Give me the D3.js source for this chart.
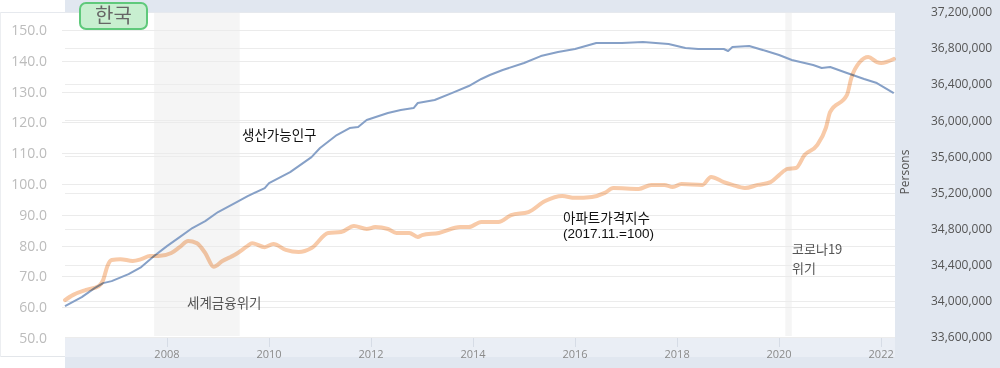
<!DOCTYPE html>
<html>
<head>
<meta charset="utf-8">
<script src="https://cdn.jsdelivr.net/npm/d3@7"></script>
<style>
  body { margin: 0; background: #e1e7f0; }
  svg { display: block; }
</style>
</head>
<body>
<script>
// 아파트가격지수 (2017.11.=100)
const priceDates = [
  "2006-01","2006-03","2006-06","2006-09","2006-10","2006-11","2006-12",
  "2007-02","2007-05","2007-07","2007-09","2007-11",
  "2008-02","2008-04","2008-06","2008-08","2008-10","2008-12",
  "2009-02","2009-05","2009-08","2009-09","2009-12",
  "2010-02","2010-05","2010-08","2010-11",
  "2011-03","2011-06","2011-09","2011-12",
  "2012-02","2012-05","2012-07","2012-10","2012-12",
  "2013-01","2013-05","2013-10","2013-12",
  "2014-03","2014-07","2014-10",
  "2015-02","2015-06","2015-10",
  "2016-01","2016-05","2016-08","2016-10",
  "2017-04","2017-07","2017-10","2017-12",
  "2018-02","2018-07","2018-09","2018-12",
  "2019-02","2019-05","2019-08","2019-11",
  "2020-01","2020-03","2020-05","2020-07","2020-10","2020-12",
  "2021-01","2021-05","2021-06","2021-08","2021-10","2021-12",
  "2022-01","2022-04"
];
const priceValues = [
  62.3, 64.0, 65.6, 66.9, 68.8, 73.4, 75.3,
  75.6, 75.0, 75.6, 76.6, 76.6,
  77.6, 79.5, 81.5, 80.8, 77.6, 73.1,
  75.0, 77.0, 79.9, 80.8, 79.5,
  80.5, 78.6, 77.9, 79.2,
  84.1, 84.4, 86.4, 85.4,
  86.0, 85.4, 84.1, 84.1, 82.8,
  83.4, 84.1, 86.0, 86.0,
  87.7, 87.7, 89.9,
  90.9, 94.5, 96.1,
  95.5, 95.8, 97.1, 98.7,
  98.4, 99.7, 99.7, 99.0,
  100.0, 99.7, 102.3, 100.6,
  99.7, 98.7, 99.7, 100.6,
  102.9, 104.9, 105.2, 109.4, 112.7, 118.2,
  123.4, 128.9, 134.4, 139.6, 141.2, 139.6,
  139.3, 140.6
];

// 생산가능인구 (Persons)
const popDates = [
  "2006-01","2006-05","2006-08","2006-10","2006-12",
  "2007-04","2007-07","2007-10",
  "2008-01","2008-04","2008-07","2008-10",
  "2009-01","2009-05","2009-08","2009-12",
  "2010-01","2010-06","2010-11",
  "2011-01","2011-05","2011-08","2011-10","2011-12",
  "2012-05","2012-08","2012-11","2012-12",
  "2013-04","2013-08","2013-12",
  "2014-03","2014-05","2014-08",
  "2015-01","2015-05","2015-09",
  "2016-01","2016-06","2016-12",
  "2017-05","2017-11",
  "2018-03","2018-06","2018-12",
  "2019-01","2019-02","2019-06","2019-10",
  "2020-01","2020-04","2020-09","2020-11",
  "2021-01","2021-05","2021-09","2021-12",
  "2022-04"
];
const popValues = [
  33942000, 34042000, 34142000, 34197000, 34219000,
  34297000, 34375000, 34497000,
  34607000, 34707000, 34807000, 34884000,
  34984000, 35084000, 35161000, 35250000,
  35305000, 35427000, 35593000,
  35693000, 35837000, 35915000, 35926000, 36003000,
  36081000, 36114000, 36136000, 36192000,
  36225000, 36302000, 36380000,
  36458000, 36502000, 36557000,
  36635000, 36712000, 36757000,
  36790000, 36856000, 36856000,
  36868000, 36845000,
  36801000, 36790000, 36790000,
  36768000, 36812000, 36823000, 36768000,
  36724000, 36668000, 36613000, 36580000,
  36591000, 36524000, 36458000, 36413000,
  36302000
];

const leftTicks = [50, 60, 70, 80, 90, 100, 110, 120, 130, 140, 150];
const rightTicks = [33600000, 34000000, 34400000, 34800000, 35200000,
  35600000, 36000000, 36400000, 36800000, 37200000];
const yearTicks = [2008, 2010, 2012, 2014, 2016, 2018, 2020, 2022];

// 음영 구간: 세계금융위기, 코로나19
const shadeStarts = ["2007-10-01", "2020-02-15"];
const shadeEnds = ["2009-06-05", "2020-04-01"];

const width = 1000;
const height = 368;
const plot = { left: 65, right: 895, top: 13, bottom: 338 };

const parseMonth = d3.timeParse("%Y-%m");
const parseDay = d3.timeParse("%Y-%m-%d");

const svg = d3
  .select("body")
  .append("svg")
  .attr("width", width)
  .attr("height", height);

const x = d3
  .scaleTime()
  .domain([new Date(2006, 0, 1), new Date(2022, 3, 10)])
  .range([plot.left, plot.right]);
const yLeft = d3.scaleLinear().domain([50, 150]).range([338, 30]);
const yRight = d3.scaleLinear().domain([33600000, 37200000]).range([337, 12]);

// panels
svg.append("rect").attr("x", 0).attr("y", 0).attr("width", plot.left).attr("height", height)
  .attr("fill", "#ffffff");
svg.append("rect").attr("x", plot.left).attr("y", plot.bottom)
  .attr("width", plot.right - plot.left).attr("height", 19).attr("fill", "#eaeef5");
svg.append("rect").attr("x", plot.left).attr("y", plot.top)
  .attr("width", plot.right - plot.left).attr("height", plot.bottom - plot.top)
  .attr("fill", "#ffffff");
svg.append("line").attr("x1", 0).attr("x2", plot.right).attr("y1", 12.5).attr("y2", 12.5)
  .attr("stroke", "#e6e9ee");
svg.append("line").attr("x1", 0).attr("x2", plot.left).attr("y1", 356.5).attr("y2", 356.5)
  .attr("stroke", "#e3e6ea");
svg.append("line").attr("x1", 0.5).attr("x2", 0.5).attr("y1", 12).attr("y2", 357)
  .attr("stroke", "#eceef1");

// shaded ranges
svg.append("g")
  .selectAll("rect")
  .data(shadeStarts.map((s, i) => [parseDay(s), parseDay(shadeEnds[i])]))
  .join("rect")
  .attr("x", (d) => x(d[0]))
  .attr("width", (d) => x(d[1]) - x(d[0]))
  .attr("y", plot.top)
  .attr("height", 336 - plot.top)
  .attr("fill", "#f5f5f5");

// grid lines
svg.append("g")
  .attr("stroke", "#ebebeb")
  .selectAll("line")
  .data(leftTicks.slice(1))
  .join("line")
  .attr("x1", 62)
  .attr("x2", plot.right)
  .attr("y1", (d) => Math.round(yLeft(d)) + 0.5)
  .attr("y2", (d) => Math.round(yLeft(d)) + 0.5);

svg.append("g")
  .attr("stroke", "#ececec")
  .selectAll("line")
  .data(rightTicks.slice(0, -1))
  .join("line")
  .attr("x1", plot.left)
  .attr("x2", plot.right)
  .attr("y1", (d) => Math.round(yRight(d)) + 0.5)
  .attr("y2", (d) => Math.round(yRight(d)) + 0.5);

// left axis labels
svg.append("g")
  .attr("font-family", "'Open Sans', sans-serif")
  .attr("font-size", 14)
  .attr("fill", "#bcbcbc")
  .attr("text-anchor", "end")
  .selectAll("text")
  .data(leftTicks)
  .join("text")
  .attr("x", 47)
  .attr("y", (d) => yLeft(d))
  .attr("dy", "0.35em")
  .text(d3.format(".1f"));

// right axis labels
svg.append("g")
  .attr("font-family", "'Open Sans', sans-serif")
  .attr("font-size", 12)
  .attr("fill", "#555555")
  .attr("text-anchor", "start")
  .selectAll("text")
  .data(rightTicks)
  .join("text")
  .attr("x", 931)
  .attr("y", (d) => yRight(d))
  .attr("dy", "0.35em")
  .text(d3.format(","));

svg.append("text")
  .attr("transform", "translate(909,172) rotate(-90)")
  .attr("text-anchor", "middle")
  .attr("font-family", "'Open Sans', sans-serif")
  .attr("font-size", 12)
  .attr("fill", "#555555")
  .text("Persons");

// x axis
const xTicks = yearTicks.map((yr) => new Date(yr, 0, 1));
svg.append("g")
  .attr("stroke", "#d6dce6")
  .selectAll("line")
  .data(xTicks)
  .join("line")
  .attr("x1", (d) => Math.round(x(d)) + 0.5)
  .attr("x2", (d) => Math.round(x(d)) + 0.5)
  .attr("y1", plot.bottom)
  .attr("y2", 347);

svg.append("g")
  .attr("font-family", "'Open Sans', sans-serif")
  .attr("font-size", 11)
  .attr("fill", "#8a8a8a")
  .attr("text-anchor", "middle")
  .selectAll("text")
  .data(xTicks)
  .join("text")
  .attr("x", (d) => x(d))
  .attr("y", 354)
  .attr("dy", "0.35em")
  .text(d3.timeFormat("%Y"));

// lines
const popData = popDates.map((d, i) => ({ date: parseMonth(d), value: popValues[i] }));
const priceData = priceDates.map((d, i) => ({ date: parseMonth(d), value: priceValues[i] }));

svg.append("path")
  .datum(popData)
  .attr("fill", "none")
  .attr("stroke", "#86a0c7")
  .attr("stroke-width", 2)
  .attr("stroke-linejoin", "round")
  .attr("d", d3.line().x((d) => x(d.date)).y((d) => yRight(d.value)));

svg.append("path")
  .datum(priceData)
  .attr("fill", "none")
  .attr("stroke", "#f8caa8")
  .attr("stroke-width", 4)
  .attr("stroke-linejoin", "round")
  .attr("stroke-linecap", "round")
  .style("mix-blend-mode", "multiply")
  .attr("d", d3.line().curve(d3.curveMonotoneX).x((d) => x(d.date)).y((d) => yLeft(d.value)));

// annotations
const kr = "'Noto Sans CJK KR', sans-serif";
const notes = svg.append("g").attr("font-family", kr).attr("font-size", 13.5);

function note(px, py, lines, color, gap, size) {
  const t = notes.append("text").attr("x", px).attr("y", py).attr("fill", color)
    .attr("font-size", size || null);
  lines.forEach((s, i) => {
    t.append("tspan")
      .attr("x", px)
      .attr("dy", i === 0 ? "0.35em" : gap + "px")
      .attr("font-family", /^[\x20-\x7e]+$/.test(s) ? "'Liberation Sans', sans-serif" : null)
      .text(s);
  });
}

note(242, 135, ["생산가능인구"], "#111");
note(563, 218, ["아파트가격지수", "(2017.11.=100)"], "#111", 15);
note(187, 303, ["세계금융위기"], "#555");
note(792, 249, ["코로나19", "위기"], "#555", 19, 13);

// badge
svg.append("rect")
  .attr("x", 80).attr("y", 3).attr("width", 67).attr("height", 26).attr("rx", 6)
  .attr("fill", "#c8efd0").attr("stroke", "#5fc97b").attr("stroke-width", 2);
svg.append("text")
  .attr("x", 113.5).attr("y", 16).attr("dy", "0.35em")
  .attr("text-anchor", "middle")
  .attr("font-family", kr).attr("font-size", 20).attr("fill", "#666")
  .text("한국");
</script>
</body>
</html>
